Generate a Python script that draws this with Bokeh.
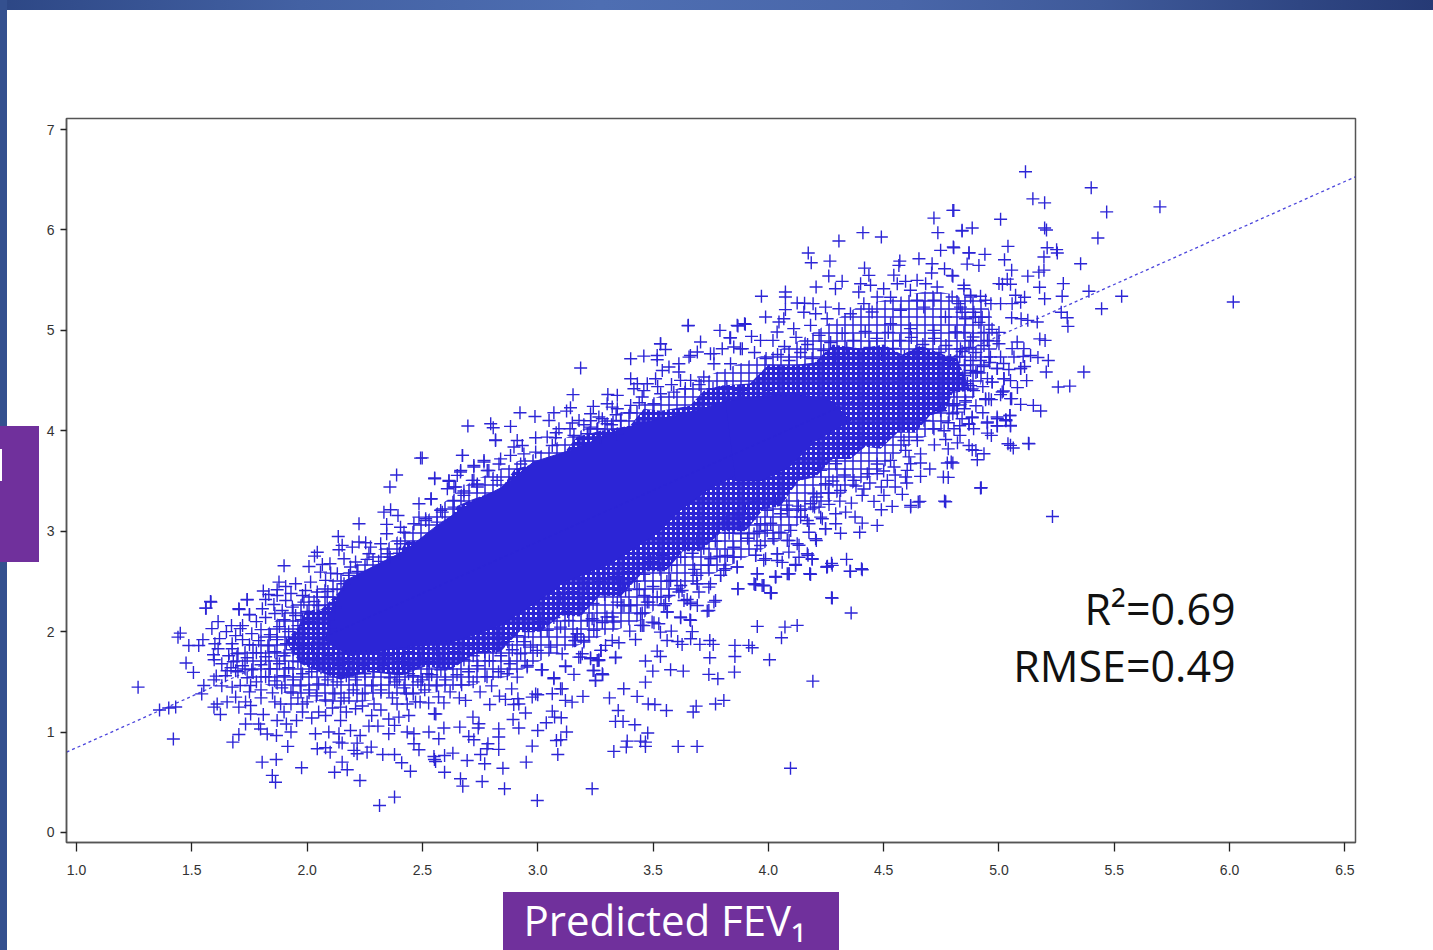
from bokeh.plotting import figure
from bokeh.embed import file_html
from bokeh.resources import INLINE
from bokeh.models import Label, FixedTicker, GlobalInlineStyleSheet, Range1d, PrintfTickFormatter, Title

# Every point is a visual estimate. Individual markers in the
# heavily over-plotted centre cannot be read, so the saturated and mesh-like areas are hand-traced outlines.
BLUE = "#2c25d6"
x_ticks = [1.0, 1.5, 2.0, 2.5, 3.0, 3.5, 4.0, 4.5, 5.0, 5.5, 6.0, 6.5]
y_ticks = [0, 1, 2, 3, 4, 5, 6, 7]
fit_x = [0.957, 6.546]
fit_y = [0.80, 6.53]
core_x = [2.101,2.167,2.297,2.427,2.565,2.709,2.839,2.982,3.173,3.359,3.533,3.719,3.814,3.858,3.901,3.736,3.619,3.519,3.316,3.112,3.025,2.839,2.622,2.405,2.188,2.08]
core_y = [2.19,2.51,2.66,2.81,3.06,3.28,3.43,3.69,3.83,4.02,4.12,4.22,4.30,4.00,3.61,3.41,3.21,2.98,2.68,2.49,2.34,2.06,1.89,1.84,1.76,1.91]
blob_x = [3.814,4.096,4.27,4.357,4.205,4.096,3.966,3.858]
blob_y = [4.30,4.38,4.30,4.10,3.90,3.65,3.5,3.5]
inner_x = [2.145,2.21,2.275,2.37,2.43,2.492,2.6,2.65,2.709,2.84,2.9,2.969,3.1,3.17,3.272,3.4,3.46,3.533,3.66,3.72,3.793,3.92,4.0,4.096,4.2,4.28,4.4,4.5,4.58,4.66,4.76,4.82,4.877,4.80,4.768,4.70,4.638,4.56,4.487,4.42,4.356,4.28,4.205,4.13,4.053,3.98,3.901,3.8,3.706,3.63,3.554,3.46,3.359,3.27,3.186,3.1,3.012,2.92,2.839,2.73,2.622,2.51,2.405,2.27,2.145,2.05,1.971,1.93,1.906,1.96,1.993,2.06]
inner_y = [2.41,2.42,2.59,2.68,2.9,2.91,3.02,3.25,3.31,3.42,3.62,3.66,3.74,3.94,4.00,4.05,4.22,4.20,4.25,4.4,4.45,4.47,4.66,4.65,4.68,4.86,4.82,4.86,4.76,4.85,4.76,4.72,4.4,4.38,4.2,4.15,3.98,3.98,3.82,3.84,3.72,3.72,3.54,3.5,3.25,3.22,3.0,3.0,2.8,2.8,2.6,2.6,2.35,2.36,2.15,2.16,2.0,2.0,1.8,1.78,1.62,1.65,1.56,1.6,1.52,1.6,1.68,1.82,1.91,2.04,2.21,2.22]
outer_x = [1.776,1.928,2.101,2.275,2.492,2.709,2.969,3.272,3.533,3.793,4.096,4.4,4.703,4.942,5.007,4.898,4.747,4.638,4.487,4.356,4.205,4.053,3.793,3.619,3.446,3.229,3.055,2.882,2.622,2.405,2.145,1.928,1.733,1.646]
outer_y = [1.91,2.26,2.51,2.76,3.11,3.49,3.755,4.10,4.35,4.60,4.85,5.25,5.40,5.30,4.90,4.35,4.00,3.90,3.61,3.41,3.21,2.91,2.61,2.41,2.11,1.91,1.76,1.56,1.41,1.365,1.265,1.365,1.56,1.76]

low_left = [(1.267,1.447),(1.36,1.22),(1.43,1.25),(1.40,1.24),(1.42,0.93),(1.45,1.985),(1.44,1.945),(1.487,1.862),(1.53,1.862),(1.548,1.92),(1.475,1.687),(1.507,1.594),
(1.562,2.234),(1.583,2.294),(1.74,2.317),(1.705,2.22),(1.75,2.168),(1.614,2.10),(1.587,2.03),(1.62,1.93),(1.60,1.88),(1.614,1.83),(1.594,1.77),(1.597,1.72),(1.672,2.06),(1.72,2.06),(1.71,2.03),(1.675,1.88),(1.675,1.83),
(1.596,1.52),(1.606,1.557),(1.552,1.464),(1.543,1.38),(1.646,1.56),(1.69,1.61),(1.653,1.61),(1.63,1.46),(1.675,1.447),(1.71,1.464),(1.755,1.464),(1.69,1.348),(1.596,1.248),(1.61,1.28),(1.653,1.3),(1.704,1.248),(1.733,1.3),(1.755,1.265),
(1.624,1.175),(1.755,1.18),(1.81,1.175),(1.733,1.08),(1.79,1.08),(1.798,1.03),(1.827,0.98),(1.867,0.966),(1.87,1.115),(1.91,1.08),(1.954,1.115),(1.93,1.0),(1.704,0.976),(1.678,0.90),(1.916,0.857),
(1.805,0.70),(1.866,0.727),(1.849,0.568),(1.863,0.50),(1.976,0.644),(2.036,0.983),(2.094,1.0),(2.138,0.983),(2.044,0.833),(2.08,0.843),(2.10,0.80),(2.138,0.90),(2.152,0.89),(2.188,1.016),(2.23,0.966),(2.217,0.89),(2.203,0.817),(2.217,0.784),(2.26,0.80),(2.278,0.85),
(2.152,0.70),(2.119,0.60),(2.174,0.624),(2.229,0.518),(2.314,0.269),(2.379,0.352),(2.268,1.059),(2.307,1.059),(2.354,0.983),(2.379,1.066),(2.398,1.149),(2.441,1.165),(2.434,1.0),(2.463,0.983),(2.528,1.0),(2.558,1.18),
(2.328,0.777),(2.379,0.777),(2.41,0.694),(2.448,0.61),(2.463,0.883),(2.485,0.823),(2.55,0.757),(2.557,0.707),(1.885,1.28),(1.93,1.28),(1.98,1.28),(2.08,1.165),(2.05,1.2),(2.145,1.248),(2.145,1.115),(2.21,1.232),(2.28,1.165),(2.29,1.28),(2.354,1.13),(2.39,1.28),(2.434,1.28),(2.49,1.3),(2.527,1.29)]

low_mid = [(2.998,0.319),(3.236,0.435),(4.096,0.64),(2.856,0.435),(2.759,0.508),(2.675,0.461),(2.665,0.535),(2.596,0.60),(2.849,0.64),(2.95,0.70),(2.77,0.684),(2.694,0.717),(2.752,0.777),(2.78,0.833),(2.831,0.827),(2.784,0.883),(2.552,0.727),(2.596,0.767),(2.632,0.79),
(2.976,0.86),(3.087,0.777),(3.081,0.916),(3.10,0.923),(3.125,1.0),(3.0,1.016),(2.918,1.04),(3.037,1.092),(2.893,1.125),(2.947,1.189),(3.063,1.208),(3.073,1.149),(3.102,1.142),(2.831,1.032),(2.831,0.95),(2.745,1.082),(2.742,1.04),(2.719,1.149),(2.701,0.956),(2.723,0.923),(2.662,1.049),(2.593,1.04),(2.571,0.933),(2.552,1.182),
(3.33,0.807),(3.384,0.85),(3.388,0.91),(3.446,0.91),(3.467,0.857),(3.467,0.90),(3.477,0.99),(3.421,1.072),(3.37,1.106),(3.337,1.106),(3.349,1.215),(3.609,0.857),(3.691,0.857),(3.558,1.215),(3.674,1.199),(3.687,1.258),(3.771,1.28),(3.807,1.315),
(3.479,1.28),(3.508,1.275),(3.431,1.355),(3.373,1.431),(3.311,1.34),(3.196,1.355),(3.149,1.298),(3.12,1.315),(3.106,1.431),(3.063,1.381),(3.0,1.371),(2.976,1.348),(2.918,1.28),(2.896,1.275),(2.914,1.331),(2.86,1.325),(2.834,1.358),(2.792,1.275),(2.687,1.315),(2.593,1.29),
(3.467,1.497),(3.499,1.607),(3.576,1.62),(3.631,1.607),(3.742,1.574),(3.781,1.53),(3.853,1.597),(4.193,1.507),(3.467,1.707),(3.518,1.806),(3.532,1.753),(3.746,1.74),(3.855,1.753),(3.855,1.863),(3.915,1.863),(3.93,1.839),(4.005,1.72),
(3.746,1.912),(3.761,1.873),(3.703,1.873),(3.663,1.929),(3.67,2.0),(3.626,1.873),(3.607,1.902),(3.561,1.912),(3.579,2.005),(3.532,1.995),(3.424,1.922),(3.399,2.005),(3.352,1.889),(3.323,1.912),(3.294,1.863),(3.275,1.813),(3.337,1.74),(3.258,1.713),(3.282,1.57),(3.25,1.514),(3.24,1.613),(3.157,1.574),(3.12,1.657),(3.07,1.54),(3.016,1.62),(2.954,1.647),
(3.952,2.052),(4.072,2.045),(4.057,1.939),(4.125,2.062),(4.359,2.185),(4.277,2.334),(3.868,2.427),(3.942,2.47),(3.973,2.46),(4.009,2.387),(4.031,2.543),(4.089,2.576),(4.18,2.576),(4.255,2.643),(4.277,2.66),(4.356,2.6),(4.407,2.616),
(3.742,2.21),(3.764,2.294),(3.662,2.278),(3.619,2.145),(3.66,2.118),(3.554,2.278),(3.561,2.195),(3.496,2.095),(3.525,2.078),(3.446,2.062),(3.46,2.06),(3.446,2.178),(3.482,2.294),(3.402,2.26),(3.365,2.26),(3.323,2.145),(3.236,2.128),(3.28,2.09),(3.243,2.012),(3.171,1.979),(3.2,1.912),(3.16,1.91),(3.193,1.78),(3.229,1.74),(3.178,1.746),(3.265,1.72),
(3.691,2.477),(3.749,2.477),(3.576,2.51),(3.793,2.56),(3.69,2.56),(3.626,2.41),(3.648,2.32)]

low_edge = [(4.013,2.384),(3.945,2.47),(3.981,2.46),(4.082,2.576),(4.183,2.57),(4.256,2.65),(4.031,2.55),(3.952,2.576),(3.945,2.759),(3.988,2.726),(4.039,2.709),(4.118,2.66),(4.19,2.726),(4.125,2.875),(4.039,2.776),(4.089,2.792),(4.169,2.776),(4.205,2.925),(4.248,3.024),(4.234,3.124),(4.169,3.107),(4.14,3.207),(4.082,2.908),(4.024,2.925),(3.966,2.858),(3.865,2.643),(3.822,2.759),(3.793,2.56),(3.75,2.726),(3.815,2.626),
(3.692,2.477),(3.742,2.443),(3.699,2.394),(3.62,2.46),(3.612,2.394),(3.569,2.36),(3.518,2.344),(3.461,2.36),(3.381,2.41),(3.359,2.41),(3.771,2.31),(3.735,2.205),(3.692,2.26),(3.663,2.294),(3.634,2.31),(3.547,2.26),(3.562,2.195),(3.403,2.26),(3.374,2.26),(3.345,2.294),(3.475,2.294),(3.453,2.185),(3.62,2.138),(3.663,2.112),(3.504,2.088),(3.453,2.062),(3.244,2.112),(3.33,2.095),(3.3,2.145),(3.164,1.912),(3.2,1.896),(3.171,1.979),(3.135,2.112),(3.215,2.112),(3.041,2.012),(3.099,2.045),(3.012,2.012),(2.969,1.846),(2.926,1.78),(2.998,1.813),(3.056,1.846),(3.106,1.78),
(2.868,1.58),(2.911,1.547),(2.955,1.663),(3.02,1.62),(3.121,1.653),(3.07,1.53),(3.186,1.746),(3.229,1.73),(3.265,1.713),(3.338,1.746),(3.273,1.813),(3.244,1.613),(3.28,1.58),(3.251,1.514),(2.887,1.43),(2.991,1.38),(3.099,1.43),
(3.42,2.5),(3.36,2.47),(3.46,2.57),(3.53,2.62),(3.58,2.66),(3.62,2.74),(3.67,2.78),(3.72,2.83),(3.77,2.9),(3.83,2.98),(3.88,3.04),(3.92,3.12),(3.68,2.62),(3.74,2.66),(3.79,2.75),(3.85,2.84),(3.91,2.93),(3.96,3.0),(4.01,3.08),(3.56,2.5),(3.5,2.45),(3.44,2.42),(3.29,2.37),(3.24,2.28),(3.18,2.22),(3.13,2.2),(3.07,2.14),(3.01,2.1),(2.96,2.0),(2.91,1.96),(2.87,1.9),(2.82,1.84),(2.77,1.8),(2.72,1.76),(2.68,1.72),(2.63,1.68),(2.58,1.62),(2.54,1.57),(2.5,1.52),
(2.94,1.9),(2.89,1.82),(2.84,1.76),(2.79,1.71),(2.74,1.66),(2.7,1.6),(2.65,1.57),(2.6,1.52),(2.56,1.46),(2.51,1.42),(2.46,1.38),(2.42,1.44),(2.38,1.5),(2.46,1.56),(2.52,1.68),(2.58,1.74),(2.64,1.8),(2.7,1.86),(2.76,1.92),(2.82,1.97),(2.67,1.47),(2.72,1.5),(2.78,1.55),(2.83,1.6),(2.88,1.68),(2.75,1.4),(2.8,1.46),(2.62,1.4),(2.57,1.35),(2.66,1.34)]

top_left = [(2.697,4.047),(2.796,4.07),(2.807,4.03),(2.817,3.904),(2.492,3.728),(2.674,3.755),(2.388,3.56),(2.359,3.44),(2.553,3.523),(2.615,3.496),(2.608,3.423),(2.538,3.323),(2.485,3.274),(2.333,3.19),(2.362,3.214),(2.394,3.157),(2.225,3.074),(2.345,3.068),(2.345,2.975),(2.405,3.04),(2.463,3.074),(2.514,3.124),(2.564,3.09),
(2.135,2.948),(2.152,2.859),(2.138,2.815),(2.225,2.892),(2.254,2.885),(2.196,2.842),(2.319,2.875),(2.405,2.875),(2.044,2.79),(2.032,2.752),(2.008,2.649),(1.9,2.656),(2.066,2.669),(2.099,2.676),(2.058,2.593),(2.16,2.726),(2.21,2.693),(2.268,2.776),(2.348,2.776),(2.131,2.576),(2.102,2.583),(2.08,2.51),(1.878,2.493),(1.907,2.45),(1.95,2.477),(2.015,2.493),(1.87,2.417),(1.81,2.404),(1.834,2.37),(1.993,2.41),(2.044,2.394),(1.907,2.31),(1.856,2.27),(1.74,2.32),(1.704,2.228),(1.75,2.17),(1.806,2.228),(1.581,2.3),(1.56,2.234),(1.892,2.21),(1.936,2.244),(1.986,2.294),(2.087,2.344),(2.16,2.477),
(2.666,3.605),(2.651,3.556),(2.723,3.64),(2.767,3.689),(2.716,3.506),(2.781,3.605),(2.644,3.44),(2.68,3.357),(2.738,3.44),(2.637,3.24),(2.586,3.19),(2.485,3.14),(2.42,2.99),(2.275,2.842),(2.188,2.643),(2.923,4.18),(2.988,4.143),(3.07,4.18),(3.125,4.196),(3.142,4.23),(3.049,4.103),(2.882,4.044),(2.817,3.91),(3.15,4.077),(3.179,4.103),(3.229,4.17),(3.265,4.137),(3.323,4.236),(3.345,4.22),(3.403,4.253),(3.504,4.27),(3.359,4.103),(3.301,4.07),(3.229,4.037),(3.092,4.02),(3.157,3.954),(2.991,3.931),(3.041,3.937),(3.077,3.931),(2.911,3.904),(2.933,3.854),(2.897,3.838),(3.215,3.97),(3.272,3.937),(3.345,3.97),
(2.673,3.755),(2.499,3.73),(2.553,3.53),(2.537,3.32),(2.882,3.755),(2.839,3.72),(2.94,3.77),(2.991,3.788),(3.063,3.854),(2.767,3.705),(2.723,3.655),(2.832,3.67),(2.665,3.59),(2.615,3.506),(2.637,3.44),(2.723,3.506),(2.788,3.605),(2.926,3.67),(2.68,3.4),(2.738,3.47),(2.824,3.506),(2.579,3.207),(2.637,3.307),(2.514,3.107)]

left_fill = [(1.78,2.1),(1.82,2.14),(1.86,2.18),(1.9,2.12),(1.95,2.16),(2.0,2.2),(2.05,2.26),(1.8,2.02),(1.84,1.97),(1.88,2.05),(1.92,2.0),(1.96,2.06),(2.01,2.1),(2.05,2.14),(2.09,2.12),(1.76,1.98),(1.72,1.92),(1.75,1.87),(1.79,1.91),(1.83,1.86),(1.87,1.92),(1.91,1.88),(1.95,1.94),(1.99,1.98),(2.03,2.02),(2.07,1.98),
(1.7,1.78),(1.74,1.74),(1.78,1.79),(1.82,1.75),(1.86,1.8),(1.9,1.76),(1.94,1.82),(1.98,1.86),(2.02,1.84),(2.06,1.88),(1.68,1.7),(1.72,1.66),(1.76,1.62),(1.8,1.67),(1.84,1.63),(1.88,1.68),(1.92,1.64),(1.96,1.7),(2.0,1.74),(2.04,1.72),(2.09,1.76),(2.13,1.72),(2.18,1.7),
(1.74,1.54),(1.78,1.5),(1.82,1.55),(1.86,1.51),(1.9,1.56),(1.94,1.52),(1.98,1.58),(2.02,1.6),(2.06,1.64),(2.1,1.62),(2.14,1.66),(2.19,1.62),(2.24,1.66),(2.29,1.72),(2.34,1.76),(2.39,1.78),(2.44,1.8),(2.5,1.79),(2.56,1.82),
(1.8,1.42),(1.85,1.39),(1.89,1.44),(1.93,1.4),(1.97,1.46),(2.01,1.42),(2.05,1.48),(2.09,1.52),(2.13,1.5),(2.17,1.56),(2.21,1.52),(2.25,1.58),(2.29,1.6),(2.33,1.66),(2.37,1.64),(2.41,1.7),(2.45,1.66),(2.49,1.72),(2.53,1.7),
(1.96,1.34),(2.0,1.3),(2.04,1.36),(2.08,1.32),(2.12,1.38),(2.16,1.34),(2.2,1.42),(2.24,1.38),(2.28,1.46),(2.32,1.42),(2.36,1.54),(2.4,1.52),(2.44,1.58),(2.48,1.5),(2.52,1.58),(2.11,1.24),(2.17,1.2),(2.24,1.26),(2.32,1.22),(2.37,1.34),(2.43,1.38),(2.47,1.3),
(1.65,2.0),(1.69,1.96),(1.66,1.76),(1.7,1.6),(1.67,1.64),(1.63,1.68),(1.75,1.4),(1.8,1.34),(1.86,1.3),(1.9,1.2),(1.98,1.2),(2.02,1.14),(1.82,2.32),(1.87,2.36),(1.93,2.38),(1.98,2.36),(2.03,2.3),(2.09,2.4),(2.13,2.42),(2.18,2.56),(2.22,2.6),(2.26,2.72),(2.31,2.7),(2.36,2.74),(2.4,2.78),(2.12,2.24),(2.08,2.2),(2.03,2.18),(1.98,2.12),(2.1,2.04),(2.05,1.94)]

top_right = [(4.8,6.195),(4.718,6.118),(4.735,5.973),(4.84,5.99),(4.41,5.973),(4.49,5.93),(4.306,5.89),(4.173,5.77),(4.186,5.674),(4.267,5.69),(4.747,5.797),(4.802,5.83),(4.87,5.774),(4.417,5.62),(4.436,5.548),(4.57,5.69),(4.566,5.647),(4.653,5.714),(4.71,5.664),(4.708,5.571),(4.764,5.614),(4.262,5.541),(4.32,5.488),(4.207,5.432),(4.291,5.415),(4.4,5.465),(4.443,5.45),(4.544,5.55),(4.595,5.488),(4.645,5.498),(4.682,5.465),(4.797,5.548),(4.559,5.465),(4.5,5.415),
(3.97,5.34),(4.074,5.382),(4.074,5.332),(4.392,5.382),(4.472,5.332),(4.53,5.33),(4.616,5.4),(4.732,5.432),(4.848,5.415),(4.125,5.272),(4.157,5.27),(4.194,5.266),(4.248,5.232),(4.154,5.18),(4.306,5.216),(4.414,5.266),(4.645,5.3),(4.718,5.3),(4.797,5.332),(4.877,5.332),(4.074,5.207),(4.067,5.116),(3.988,5.133),(4.046,5.083),(4.205,5.166),(4.255,5.116),(4.356,5.166),(4.45,5.183),(4.573,5.2),(4.674,5.232),(4.768,5.133),(4.833,5.232),(4.898,5.133),
(3.652,5.046),(3.79,5.0),(3.868,5.043),(3.897,5.067),(3.836,4.927),(3.927,4.94),(4.038,4.984),(4.11,5.017),(4.183,5.05),(4.53,5.066),(4.616,5.017),(4.718,5.0),(4.812,4.984),(4.888,4.934),(3.532,4.867),(3.554,4.81),(3.706,4.884),(3.662,4.75),(3.518,4.75),(3.518,4.708),(3.749,4.767),(3.8,4.817),(3.879,4.817),(3.966,4.9),
(3.653,5.05),(3.865,5.05),(3.9,5.06),(3.833,4.927),(3.533,4.867),(3.403,4.718),(3.46,4.744),(3.186,4.625),(3.656,4.734),(3.692,4.784),(3.764,4.768),(3.85,4.834),(3.887,4.817),(3.612,4.668),(3.569,4.635),(3.54,4.6),(3.612,4.585),(3.403,4.518),(3.432,4.469),(3.475,4.469),(3.511,4.518),(3.619,4.502),(3.663,4.502),(3.72,4.535),(3.764,4.668),(3.836,4.668),(3.153,4.36),(3.304,4.362),(3.345,4.353),(3.417,4.419),(3.301,4.27),(3.241,4.243),(3.453,4.336),(3.533,4.369),(3.59,4.385)]

far_right = [(5.115,6.58),(5.40,6.42),(5.147,6.31),(5.198,6.27),(5.467,6.18),(5.698,6.23),(4.804,6.195),(5.007,6.106),(4.84,5.996),(4.884,6.02),(5.198,6.02),(5.206,6.0),(5.429,5.92),(5.039,5.837),(5.209,5.823),(5.25,5.804),(5.253,5.77),(4.804,5.823),(4.87,5.77),(4.939,5.757),(5.024,5.704),(5.195,5.73),(5.354,5.664),(4.862,5.66),(4.913,5.647),(5.055,5.6),(5.173,5.58),(5.195,5.6),(5.125,5.54),(4.80,5.54),(5.036,5.51),(5.0,5.466),(5.015,5.46),(5.05,5.46),(4.848,5.45),(5.279,5.466),(5.176,5.43),
(5.39,5.39),(5.274,5.34),(5.198,5.315),(5.532,5.34),(5.445,5.216),(6.016,5.282),(5.072,5.35),(5.111,5.33),(5.057,5.266),(5.094,5.28),(5.007,5.266),(4.965,5.266),(4.92,5.34),(4.877,5.35),(4.942,5.3),(4.826,5.266),(4.891,5.18),(4.84,5.18),(4.855,5.116),(4.927,5.13),(4.913,5.08),(5.055,5.126),(5.096,5.116),(5.125,5.1),(5.166,5.083),(5.27,5.18),(5.296,5.126),(5.299,5.04),
(4.97,5.01),(5.0,4.98),(4.935,4.98),(4.848,4.98),(4.81,4.98),(5.177,4.915),(5.2,4.9),(5.079,4.884),(5.057,4.818),(5.108,4.818),(5.0,4.867),(4.877,4.9),(4.935,4.85),(4.833,4.818),(4.84,4.79),(5.214,4.70),(5.169,4.73),(5.137,4.75),(5.105,4.74),(5.065,4.735),(5.007,4.735),(4.963,4.735),(4.877,4.7),(5.368,4.585),(5.205,4.585),(5.111,4.64),(5.094,4.62),(5.043,4.61),(4.992,4.62),(4.935,4.64),(4.877,4.6),(5.021,4.52),(4.97,4.485),(4.877,4.45),
(5.307,4.445),(5.257,4.436),(5.014,4.386),(5.007,4.36),(5.055,4.32),(4.956,4.32),(4.942,4.31),(4.855,4.3),(4.804,4.4),(4.80,4.17),(4.884,4.13),(4.992,4.137),(5.029,4.104),(5.047,4.153),(4.949,4.077),(4.87,4.064),(4.992,4.05),(5.05,4.054),(4.83,4.05),
(5.232,3.147),(5.128,3.875),(5.05,3.855),(5.03,4.10),(4.92,3.43),(4.764,3.30),(4.617,3.257),(4.65,3.29),(4.78,3.536),(4.80,3.68),(4.90,3.805)]

right_edge = [(5.022,4.519),(5.019,4.396),(4.971,4.485),(5.05,4.32),(5.094,4.263),(5.149,4.253),(5.181,4.197),(4.942,4.32),(4.967,4.31),(4.855,4.286),(5.048,4.153),(5.03,4.11),(4.993,4.12),(4.95,4.087),(5.05,4.047),(4.993,4.047),(4.884,4.137),(4.87,4.07),(4.95,3.977),(4.967,3.954),(4.831,3.954),(4.769,3.914),(5.039,3.871),(5.062,3.828),(5.13,3.871),(4.87,3.854),(4.884,3.811),(4.935,3.771),(4.906,3.711),(4.776,3.679),(4.793,3.689),(4.759,3.539),(4.66,3.546),(4.923,3.433),(4.769,3.293),(4.657,3.297),(4.617,3.24),(4.537,3.247),(4.581,3.367),(4.501,3.357),(4.458,3.297),(4.49,3.214),(4.407,3.357),(4.335,3.19),(4.376,3.141),(4.407,3.081),(4.472,3.058),(4.396,2.99),(4.292,3.074),(4.248,3.024),(4.313,2.98),(4.176,2.99),(4.208,2.908),(4.133,2.86),(4.09,2.908),(4.046,2.99),
(4.339,2.72),(4.274,2.68),(4.253,2.644),(4.18,2.576),(4.354,2.603),(4.404,2.627),(4.172,2.76),(4.19,2.72),(4.133,2.74),(4.118,2.67),(4.09,2.576),(4.039,2.776),(4.06,2.69),(4.032,2.543),(3.98,2.71),(3.945,2.76),(3.865,2.643),(3.851,2.74),(3.952,2.576),(3.938,2.477),(3.978,2.46),(3.868,2.427),(4.01,2.387),(4.274,2.337),(3.807,2.61),
(4.227,3.14),(4.176,3.074),(4.263,3.267),(4.183,3.274),(4.22,3.24),(4.14,3.14),(4.097,3.008),(3.995,3.008),(4.053,3.174),(3.995,3.207),(3.938,2.975),(3.88,2.975),(3.851,3.04),(3.966,3.074),(4.082,3.207),(4.292,3.174),(4.516,3.506),(4.595,3.54),(4.472,3.572),(4.545,3.64),(4.602,3.606),(4.617,3.672),(4.66,3.77),(4.595,3.805),(4.646,3.904),(4.588,3.904),(4.718,4.02),(4.762,4.0),(4.805,4.02),(4.675,4.104),(4.747,4.2),(4.819,4.186),(4.733,4.37),(4.805,4.27),(4.863,4.47),(4.805,4.4),(4.906,4.59),(4.993,4.62),(5.094,4.62),(4.53,3.705),(4.472,3.67),(4.429,3.572),(4.371,3.506),(4.313,3.406),(4.414,3.42),(4.248,3.473),(4.198,3.373),(4.227,3.606),(4.292,3.672)]

right_fill = [(4.02,4.9),(4.07,4.84),(4.12,4.93),(4.17,4.86),(4.22,4.95),(4.27,4.88),(4.32,4.97),(4.37,4.9),(4.42,4.99),(4.47,4.92),(4.52,4.98),(4.57,4.9),(4.62,4.93),(4.67,4.86),(4.72,4.92),(4.77,4.85),(3.94,4.78),(3.99,4.72),(4.04,4.76),(4.09,4.7),(4.14,4.78),(4.19,4.72),(4.24,4.8),(4.29,4.74),(4.34,4.82),(4.39,4.76),(4.44,4.83),(4.49,4.76),(4.54,4.82),(4.59,4.74),(4.64,4.79),(4.69,4.72),(4.74,4.78),(4.79,4.7),(4.83,4.74),
(4.9,4.58),(4.85,4.55),(4.89,4.4),(4.93,4.44),(4.84,4.46),(4.8,4.25),(4.85,4.22),(4.9,4.25),(4.93,4.18),(4.78,4.08),(4.84,4.12),(4.89,4.02),(4.72,3.86),(4.78,3.82),(4.82,3.88),(4.66,3.68),(4.7,3.62),(4.61,3.74),(4.55,3.56),(4.5,3.6),(4.6,3.48),(4.55,3.44),(4.49,3.44),(4.44,3.48),(4.38,3.45),(4.33,3.56),(4.28,3.5),(4.36,3.28),(4.31,3.3),(4.26,3.38),(4.21,3.34),(4.2,3.24),(4.13,3.25),(4.08,3.26),(4.03,3.3),
(3.94,3.3),(3.9,3.22),(3.86,3.16),(3.82,3.1),(3.78,3.04),(3.74,2.98),(3.69,2.92),(3.64,2.87),(3.59,2.82),(3.54,2.76),(3.49,2.7),(3.44,2.64),(3.39,2.6),(3.34,2.55),(3.27,2.5),(3.21,2.44),(3.15,2.4),(3.1,2.34),
(4.9,4.78),(4.95,4.9),(4.87,4.83),(4.92,4.7),(4.85,4.65),(4.95,4.52),(4.96,4.68),(5.02,4.67),(5.05,4.5),(5.08,4.43),(5.12,4.5),
(3.46,4.4),(3.52,4.44),(3.58,4.46),(3.64,4.42),(3.7,4.46),(3.76,4.42),(3.82,4.44),(3.88,4.4),(3.94,4.42),(4.0,4.4),(3.44,4.28),(3.23,4.1),(3.28,4.12),(3.34,4.16),(3.4,4.18),(3.08,3.98),(3.14,4.02),(3.2,4.06),(3.26,4.02),(3.32,4.06)]

groups = [low_left, low_mid, low_edge, top_left, left_fill, top_right, far_right, right_edge, right_fill]
pts_x = [a for g in groups for a, b in g]
pts_y = [b for g in groups for a, b in g]

# Slide furniture outside the plot frame: painted as page background layers behind the transparent figure border.
def layer(l, t, w, h, c):
    return f"linear-gradient({c},{c}) {l}px {t}px/{w}px {h}px no-repeat"
top_bar = ("linear-gradient(90deg,#2d4785 0,#4361a3 300px,#4e6eb2 600px,#4966a9 900px,#3f5a9a 1100px,#2f4683 1300px,#263a75 1433px)"
           " 0 0/1433px 10px no-repeat")
page_css = ("html,body{margin:0;padding:0;overflow:hidden;height:950px}body{background:"
            + ",".join([layer(0, 449, 2, 32, "#fff"), layer(0, 426, 39, 136, "#70309c"), layer(503, 892, 336, 58, "#70309c"),
                        layer(0, 0, 7, 950, "#34508f"), top_bar]) + ";background-color:#fff}")

p = figure(width=1433, height=962, output_backend="svg", toolbar_location=None,
           x_range=Range1d(0.9566, 6.546), y_range=Range1d(-0.1, 7.11),
           min_border_left=66, min_border_right=78, min_border_top=118, min_border_bottom=120,
           background_fill_color="white", border_fill_alpha=0)
p.stylesheets = [GlobalInlineStyleSheet(css=page_css)]
p.grid.visible = False
p.outline_line_color = "#555555"
p.outline_line_width = 1.5
for ax, ticks in ((p.xaxis, x_ticks), (p.yaxis, y_ticks)):
    ax.ticker = FixedTicker(ticks=ticks)
    ax.minor_tick_line_color = None
    ax.major_tick_in = 0
    ax.major_tick_out = 9
    ax.major_tick_line_color = "#222222"
    ax.major_tick_line_width = 1.3
    ax.axis_line_color = "#555555"
    ax.axis_line_width = 1.5
    ax.major_label_text_font = "Liberation Sans"
    ax.major_label_text_font_size = "14px"
    ax.major_label_text_color = "#333333"
p.xaxis.formatter = PrintfTickFormatter(format="%.1f")
p.yaxis.major_tick_out = 6
p.yaxis.major_label_standoff = 6
p.xaxis.major_label_standoff = 13

p.patch(outer_x, outer_y, fill_alpha=0, line_alpha=0, hatch_pattern="cross", hatch_color=BLUE, hatch_scale=8, hatch_weight=1.5)
p.patch(inner_x, inner_y, fill_alpha=0, line_alpha=0, hatch_pattern="cross", hatch_color=BLUE, hatch_scale=5, hatch_weight=3.2)
p.patch(core_x, core_y, color=BLUE)
p.patch(blob_x, blob_y, color=BLUE)
p.line(fit_x, fit_y, line_color=BLUE, line_width=1.3, line_dash="3 3", line_alpha=0.85)
p.scatter(pts_x, pts_y, marker="cross", size=13, line_color=BLUE, line_width=1.4, fill_alpha=0)

def dx(sx):
    return 1 + (sx - 76) / 230.6
def dy(sy):
    return (832 - sy) / 100.4

def label(txt, sx, sy, size, color, align, level):
    p.add_layout(Label(x=dx(sx), y=dy(sy), text=txt, text_font="Open Sans",
                       text_font_size=size, text_color=color, text_align=align, text_baseline="alphabetic", level=level))

label("R²=0.69", 1235, 608, "43px", "#111111", "right", "annotation")
label("RMSE=0.49", 1235, 665, "43px", "#111111", "right", "annotation")
p.add_layout(Title(text="Predicted FEV₁", text_font="Open Sans", text_font_size="42px", text_font_style="normal",
                   text_color="white", align="left", offset=457, standoff=22), "below")

open("out.html", "w").write(file_html(p, INLINE))
